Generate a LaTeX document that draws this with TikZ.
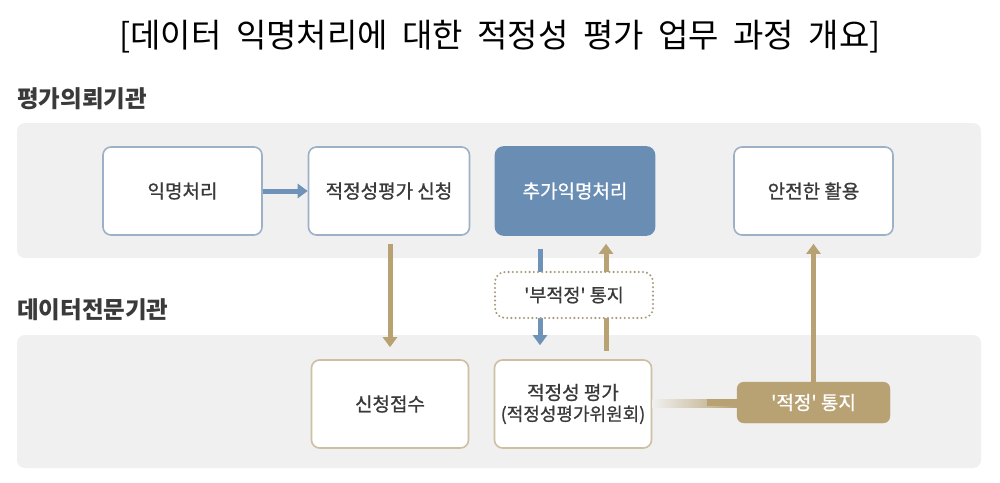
\documentclass[tikz,border=0pt]{standalone}
\usepackage{fontspec}
\setmainfont{Noto Sans CJK KR}
\newfontfamily\kr{Noto Sans CJK KR}
\newfontfamily\krm[FakeBold=0.9]{Noto Sans CJK KR}
\newcommand\mywidesp{\spaceskip=14.5pt\relax}
\usetikzlibrary{arrows.meta}
\definecolor{band}{HTML}{F0F0F0}
\definecolor{bluebd}{HTML}{9DB0C6}
\definecolor{bluefill}{HTML}{6A8DB4}
\definecolor{bluearr}{HTML}{6E92B8}
\definecolor{goldc}{HTML}{B8A274}
\definecolor{tanbd}{HTML}{CDBFA2}
\definecolor{dotc}{HTML}{A89A80}
\definecolor{txt}{HTML}{3A3A3A}
\begin{document}
\begin{tikzpicture}[x=1pt,y=-1pt,
  bandbox/.style={fill=band, draw=none, rounded corners=8pt},
  topbox/.style={draw=bluebd, line width=1.6pt, fill=white, rounded corners=8pt, minimum width=159pt, minimum height=88pt, inner sep=0pt, text=txt, font=\krm\fontsize{19}{22}\selectfont},
  botbox/.style={draw=tanbd, line width=1.6pt, fill=white, rounded corners=8pt, minimum width=157pt, minimum height=88pt, inner sep=0pt, text=txt, font=\krm\fontsize{19}{22}\selectfont, align=center},
  secl/.style={anchor=west, text=txt, font=\kr\bfseries\fontsize{23.5}{26}\selectfont, inner sep=0pt},
  bluearrow/.style={draw=bluearr, line width=5pt, -{Triangle[length=10pt,width=14pt]}},
  goldarrow/.style={draw=goldc, line width=5pt, -{Triangle[length=10pt,width=14pt]}}
]
\useasboundingbox (0,0) rectangle (1000,482);
\fill[white] (0,0) rectangle (1000,482);
% title
\node[font=\kr\fontsize{33}{37}\selectfont, text=black, inner sep=0pt] (title) at (500,37) {\mywidesp[데이터 익명처리에 대한 적정성 평가 업무 과정 개요]};
% section labels
\node[secl] (l1) at (17,99) {평가의뢰기관};
\node[secl] (l2) at (17,310) {데이터전문기관};
% bands
\path[bandbox] (17,123) rectangle (981,258);
\path[bandbox] (17,335) rectangle (981,468);
% top row
\node[topbox] (anon) at (182.5,191) {익명처리};
\node[topbox, minimum width=161pt] (apply) at (389,191) {적정성평가 신청};
\node[topbox, draw=bluefill, fill=bluefill, text=white] (extra) at (575,191) {추가익명처리};
\node[topbox] (use) at (813.5,191) {안전한 활용};
% bottom row
\node[botbox] (recv) at (390,404) {신청접수};
\node[botbox] (eval) at (573,404) {적정성 평가\\[-1pt]{\fontsize{18}{21}\selectfont(적정성평가위원회)}};
\node[draw=goldc, fill=goldc, rounded corners=7pt, minimum width=153pt, minimum height=41pt, inner sep=0pt, text=white, font=\krm\fontsize{19}{22}\selectfont] (ok) at (813.5,402.5) {'적정' 통지};
% connectors
\draw[bluearrow] (anon.east) -- (apply.west);
\draw[goldarrow, shorten <=8pt, shorten >=12pt] (apply.south -| recv.north) -- (recv.north);
\draw[bluearrow, shorten <=13pt, shorten >=14pt] (extra.south -| 540,0) -- (eval.north -| 540,0);
\draw[goldarrow, shorten <=8pt, shorten >=8pt] (eval.north -| 606,0) -- (extra.south -| 606,0);
\shade[left color=band, right color=goldc, shading angle=90] ([yshift=-3.5pt]eval.east) rectangle ([yshift=3.5pt]ok.west);
\fill[goldc] ([yshift=-3.5pt,xshift=-30pt]ok.west) rectangle ([yshift=3.5pt]ok.west);
\draw[goldarrow, shorten >=8pt] (ok.north) -- (use.south);
% dotted notice (drawn over arrows)
\node[draw=dotc, line width=2.3pt, dash pattern=on 0pt off 4.2pt, line cap=round, fill=white, rounded corners=10pt, minimum width=158pt, minimum height=46pt, inner sep=0pt, text=txt, font=\krm\fontsize{18.5}{21}\selectfont] (bad) at (574,295) {'부적정' 통지};
\end{tikzpicture}
\end{document}
